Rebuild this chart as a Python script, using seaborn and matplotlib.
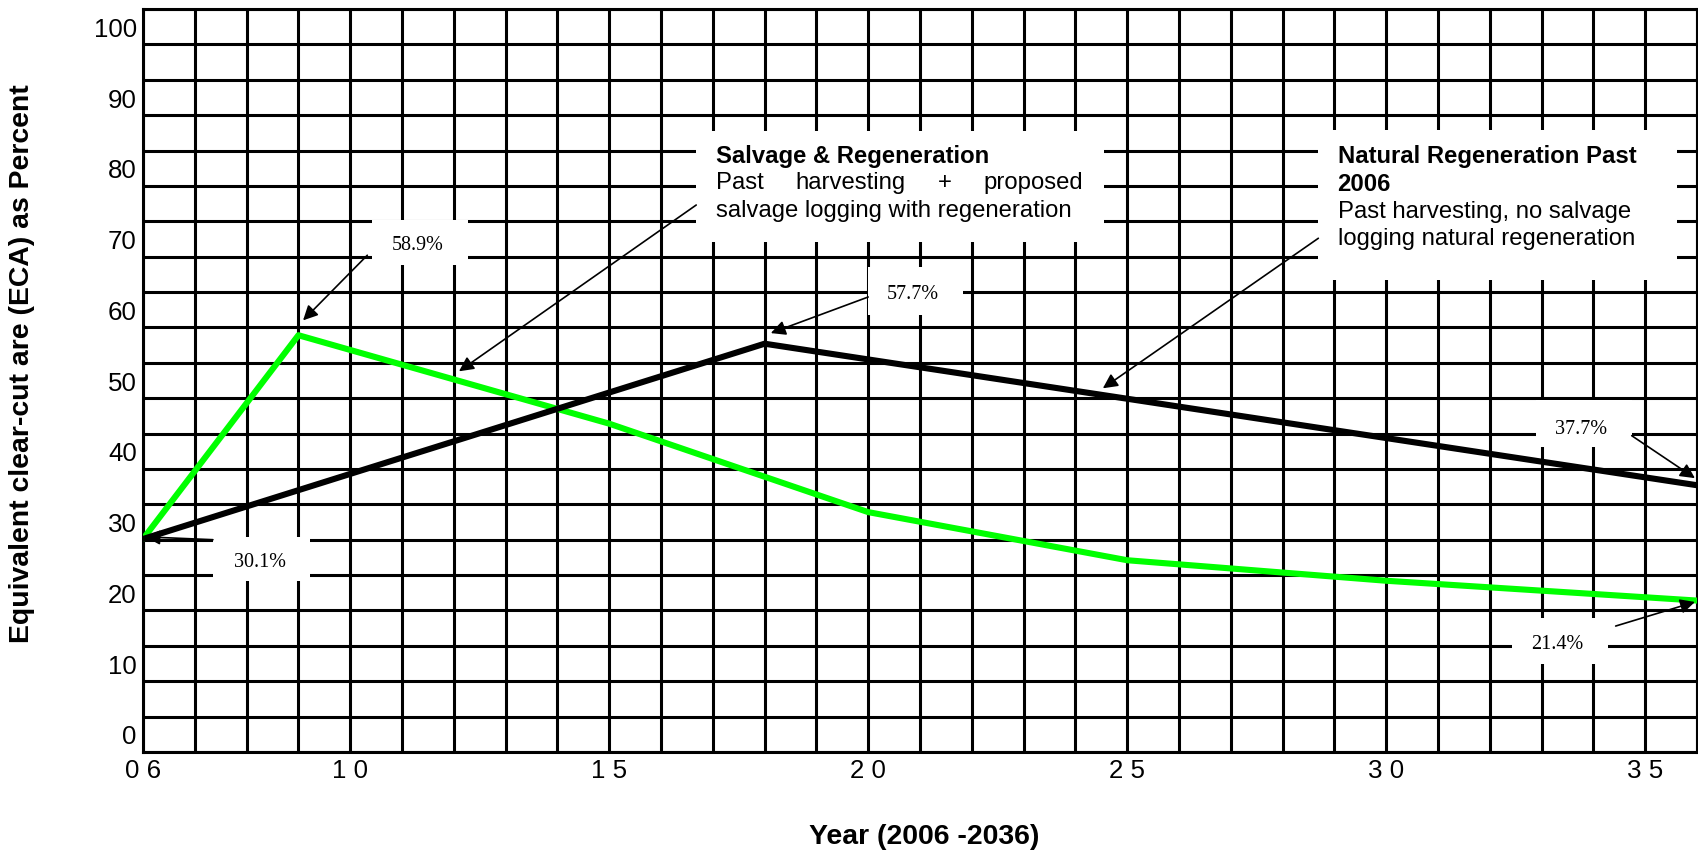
import matplotlib
matplotlib.use("Agg")
import matplotlib.pyplot as plt
import matplotlib.transforms as mtransforms
from matplotlib.patches import Rectangle
import seaborn as sns
import pandas as pd

# ---------------- data ----------------
years_natural = [2006, 2018, 2036]
eca_natural = [30.1, 57.7, 37.7]

years_salvage = [2006, 2009, 2015, 2020, 2025, 2030, 2036]
eca_salvage = [30.1, 58.9, 46.4, 33.9, 27.1, 24.2, 21.4]

grid_years = list(range(2006, 2037))
labelled_years = [2006, 2010, 2015, 2020, 2025, 2030, 2035]
grid_values = list(range(0, 106, 5))
labelled_values = list(range(0, 101, 10))

callout_texts = ["58.9%", "57.7%", "30.1%", "37.7%", "21.4%"]

# ---------------- style ----------------
sns.set_theme(style="white")
plt.rcParams["font.family"] = ["Liberation Sans", "DejaVu Sans"]
plt.rcParams["text.color"] = "black"
plt.rcParams["axes.labelcolor"] = "black"

W, H = 1698, 852
fig = plt.figure(figsize=(W / 100, H / 100), dpi=100)
ax = fig.add_axes([143 / W, 1 - 752 / H, 1554 / W, 743 / H])

df = pd.concat([
    pd.DataFrame({"Year": years_salvage, "ECA": eca_salvage,
                  "Scenario": "Salvage & Regeneration"}),
    pd.DataFrame({"Year": years_natural, "ECA": eca_natural,
                  "Scenario": "Natural Regeneration Past 2006"}),
])
sns.lineplot(data=df, x="Year", y="ECA", hue="Scenario",
             palette={"Salvage & Regeneration": "#00ff00",
                      "Natural Regeneration Past 2006": "black"},
             linewidth=4.4, legend=False, estimator=None, sort=False,
             ax=ax, zorder=3)

ax.set_xlim(2006, 2036)
ax.set_ylim(0, 105)
ax.set_axisbelow(True)

ax.set_xticks(grid_years)
ax.set_xticklabels([" ".join(f"{y % 100:02d}") if y in labelled_years else ""
                    for y in grid_years])
ax.set_yticks(grid_values)
ax.set_yticklabels([str(v) if v in labelled_values else "" for v in grid_values])
ax.grid(True, color="black", linewidth=2.2)
ax.tick_params(axis="both", length=0, labelsize=18.6, colors="black")
ax.tick_params(axis="y", pad=4.5)
ax.tick_params(axis="x", pad=5)
for s in ax.spines.values():
    s.set_color("black")
    s.set_linewidth(2.2)

# y tick labels sit half a cell above their values, as in the reference
shift = mtransforms.ScaledTranslation(0, 17 / 100, fig.dpi_scale_trans)
for lab in ax.get_yticklabels():
    lab.set_transform(lab.get_transform() + shift)

ax.set_xlabel("Year (2006 -2036)", fontsize=20.4, fontweight="bold")
ax.set_ylabel("Equivalent clear-cut are (ECA) as Percent", fontsize=20.4,
              fontweight="bold")
ax.xaxis.label.set_va("center")
ax.xaxis.set_label_coords((924 - 143) / 1554, (752 - 837) / 743)
ax.yaxis.label.set_va("center")
ax.yaxis.set_label_coords((22 - 143) / 1554, (752 - 364) / 743)

arrow_kw = dict(arrowstyle="-|>", color="black", lw=1.2, mutation_scale=22,
                shrinkA=0, shrinkB=0)

# ---------------- value callouts ----------------
# (box x0, x1, y0, y1), text position, arrow tail, arrow tip
callout_layout = [
    ((2010.42, 2012.27, 68.8, 75.2), (2011.30, 70.9), (2010.33, 70.2), (2009.09, 61.0)),
    ((2020.00, 2021.83, 61.8, 68.6), (2020.87, 64.0), (2020.00, 64.3), (2018.12, 59.2)),
    ((2007.35, 2009.22, 24.2, 30.4), (2008.25, 26.2), (2007.35, 30.0), (2006.05, 30.4)),
    ((2032.89, 2034.74, 43.1, 49.7), (2033.77, 45.0), (2034.74, 44.7), (2035.96, 38.7)),
    ((2032.42, 2034.29, 12.5, 18.9), (2033.30, 14.5), (2034.43, 17.8), (2035.96, 21.2)),
]
for txt, (box, tpos, tail, tip) in zip(callout_texts, callout_layout):
    x0, x1, y0, y1 = box
    ax.add_patch(Rectangle((x0, y0), x1 - x0, y1 - y0, facecolor="white",
                           edgecolor="none", zorder=1.5))
    ax.text(tpos[0], tpos[1], txt, ha="center", va="baseline", fontsize=14.5,
            family=["Liberation Serif", "DejaVu Serif"], color="black", zorder=5)
    ax.annotate("", xy=tip, xytext=tail, arrowprops=arrow_kw, zorder=6)

# ---------------- scenario callouts ----------------
ax.add_patch(Rectangle((2016.68, 72.1), 2024.55 - 2016.68, 87.7 - 72.1,
                       facecolor="white", edgecolor="none", zorder=1.5))
ax.text(2017.06, 83.3, "Salvage & Regeneration", fontsize=17.2,
        fontweight="bold", ha="left", va="baseline", zorder=5)
ax.text(2017.06, 79.5, "Past", fontsize=17.2, ha="left", va="baseline", zorder=5)
ax.text(2018.60, 79.5, "harvesting", fontsize=17.2, ha="left", va="baseline", zorder=5)
ax.text(2021.48, 79.5, "+", fontsize=17.2, ha="center", va="baseline", zorder=5)
ax.text(2024.15, 79.5, "proposed", fontsize=17.2, ha="right", va="baseline", zorder=5)
ax.text(2017.06, 75.6, "salvage logging with regeneration", fontsize=17.2,
        ha="left", va="baseline", zorder=5)
ax.annotate("", xy=(2012.1, 53.8), xytext=(2016.68, 77.3),
            arrowprops=arrow_kw, zorder=6)

ax.add_patch(Rectangle((2028.69, 66.7), 2035.62 - 2028.69, 87.9 - 66.7,
                       facecolor="white", edgecolor="none", zorder=1.5))
for yv, line, bold in [(83.3, "Natural Regeneration Past", True),
                       (79.3, "2006", True),
                       (75.4, "Past harvesting, no salvage", False),
                       (71.6, "logging natural regeneration", False)]:
    ax.text(2029.06, yv, line, fontsize=17.2,
            fontweight="bold" if bold else "normal",
            ha="left", va="baseline", zorder=5)
ax.annotate("", xy=(2024.53, 51.4), xytext=(2028.69, 72.6),
            arrowprops=arrow_kw, zorder=6)

fig.savefig("out.png", dpi=100, facecolor="white")
